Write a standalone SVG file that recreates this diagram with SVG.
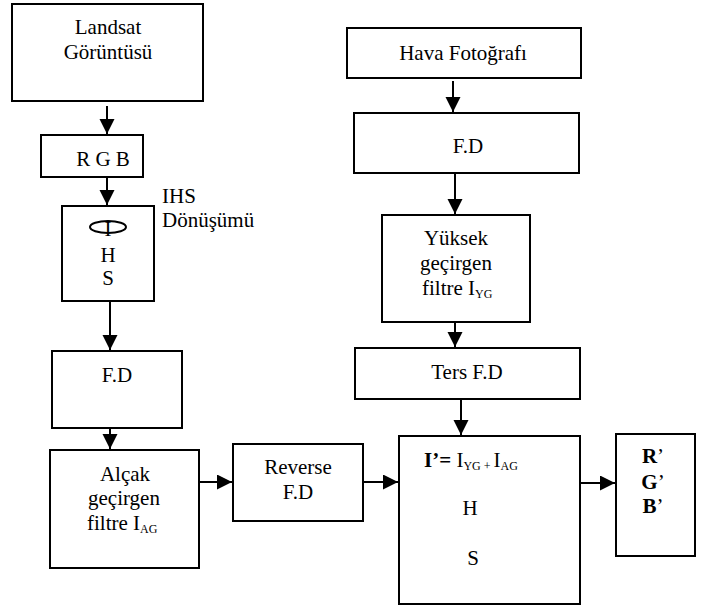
<svg xmlns="http://www.w3.org/2000/svg" width="710" height="607" viewBox="0 0 710 607">
<style>
rect.box{fill:#fff;stroke:#000;stroke-width:2}
text{font-family:"Liberation Serif","Times New Roman",serif;font-size:21px;fill:#000}
.c{text-anchor:middle}
.sub{font-size:12px}
.b{font-weight:bold}
.conn line{stroke:#000;stroke-width:2;marker-end:url(#ah)}
</style>
<defs>
<marker id="ah" markerUnits="userSpaceOnUse" markerWidth="16" markerHeight="16" refX="15" refY="7.5" orient="auto">
<path d="M0,0 L15,7.5 L0,15 z" fill="#000"/>
</marker>
</defs>
<rect width="710" height="607" fill="#fff"/>
<g id="landsat"><rect class="box" x="12" y="4" width="191" height="97"/>
<text class="c" x="108" y="34">Landsat</text><text class="c" x="108" y="59">Görüntüsü</text></g>
<g id="rgb"><rect class="box" x="41" y="135" width="102" height="42"/>
<text class="c" x="103" y="166">R G B</text></g>
<g id="ihs"><rect class="box" x="62" y="206" width="92" height="95"/>
<ellipse cx="108" cy="227" rx="18" ry="6" fill="none" stroke="#000" stroke-width="2"/>
<text class="c" x="108" y="236">I</text>
<text class="c" x="108" y="262">H</text><text class="c" x="108" y="285">S</text>
<text x="162" y="203">IHS</text><text x="162" y="227">Dönüşümü</text></g>
<g id="fd1"><rect class="box" x="52" y="351" width="130" height="77"/>
<text class="c" x="117" y="382">F.D</text></g>
<g id="alcak"><rect class="box" x="50" y="450" width="149" height="118"/>
<text class="c" x="125" y="481">Alçak</text><text class="c" x="124" y="505">geçirgen</text>
<text x="87" y="530">filtre I<tspan class="sub" dy="3">AG</tspan></text></g>
<g id="reverse"><rect class="box" x="233" y="444" width="130" height="77"/>
<text class="c" x="298" y="474">Reverse</text><text class="c" x="298" y="499">F.D</text></g>
<g id="hava"><rect class="box" x="347" y="28" width="234" height="50"/>
<text class="c" x="463" y="60">Hava Fotoğrafı</text></g>
<g id="fd2"><rect class="box" x="354" y="113" width="225" height="60"/>
<text class="c" x="468" y="153">F.D</text></g>
<g id="yuksek"><rect class="box" x="382" y="215" width="148" height="107"/>
<text class="c" x="456" y="245">Yüksek</text><text class="c" x="456" y="270">geçirgen</text>
<text x="422" y="295">filtre I<tspan class="sub" dy="3">YG</tspan></text></g>
<g id="ters"><rect class="box" x="355" y="348" width="225" height="51"/>
<text class="c" x="467" y="379">Ters F.D</text></g>
<g id="combine"><rect class="box" x="399" y="436" width="181" height="168"/>
<text x="424" y="467"><tspan class="b">I’=</tspan> I<tspan class="sub" dy="3">YG + </tspan><tspan dy="-3">I</tspan><tspan class="sub" dy="3">AG</tspan></text>
<text class="c" x="470" y="515">H</text><text class="c" x="473" y="565">S</text></g>
<g id="rgb2"><rect class="box" x="616" y="434" width="79" height="122"/>
<text class="c" x="653" y="463"><tspan class="b">R</tspan>’</text>
<text class="c" x="653" y="489"><tspan class="b">G</tspan>’</text>
<text class="c" x="653" y="513"><tspan class="b">B</tspan>’</text></g>
<g class="conn">
<line x1="107" y1="106" x2="107" y2="134"/>
<line x1="107" y1="177" x2="107" y2="205"/>
<line x1="110" y1="301" x2="110" y2="350"/>
<line x1="110" y1="428" x2="110" y2="449"/>
<line x1="199" y1="482" x2="232" y2="482"/>
<line x1="363" y1="482" x2="398" y2="482"/>
<line x1="453" y1="81" x2="453" y2="112"/>
<line x1="455" y1="173" x2="455" y2="214"/>
<line x1="455" y1="322" x2="455" y2="347"/>
<line x1="461" y1="399" x2="461" y2="435"/>
<line x1="580" y1="483" x2="615" y2="483"/>
</g>
</svg>
